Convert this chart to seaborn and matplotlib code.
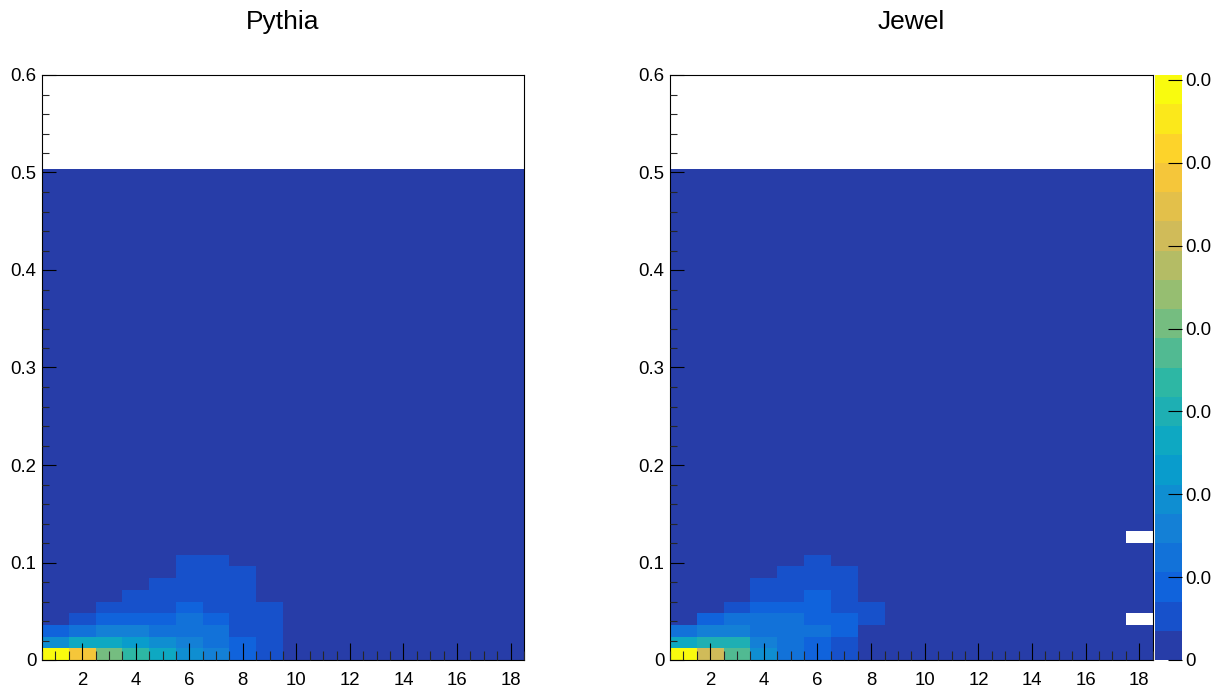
import numpy as np
import pandas as pd
import matplotlib
matplotlib.use("Agg")
import matplotlib.pyplot as plt
from matplotlib.colors import LinearSegmentedColormap, ListedColormap
from matplotlib.ticker import MultipleLocator, FuncFormatter
from matplotlib.transforms import Bbox, TransformedBbox
import seaborn as sns

sns.set_style("white")
plt.rcParams["font.family"] = ["Liberation Sans", "DejaVu Sans"]
plt.rcParams["axes.axisbelow"] = False

# ---- binning of the 2D histograms ----
X_LO, X_HI, N_XBINS = 0.5, 18.5, 18
Y_LO, Y_HI, N_YBINS = 0.0, 0.504, 42
Z_MAX = 0.0706          # maximum bin content (colour scale top)
N_LEVELS = 20           # number of colour contours
BASE = 0.001            # content of the remaining (low) bins

# bin contents of the lowest nine y-rows, x bins 1..18 (row 0 = bottom)
pythia_rows = [
    [0.0706, 0.058, 0.042, 0.033, 0.026, 0.021, 0.015, 0.009, 0.005, 0.002, 0.002, 0.002, 0.002, 0.002, 0.002, 0.002, 0.002, 0.002],
    [0.020, 0.026, 0.028, 0.024, 0.020, 0.016, 0.012, 0.008, 0.006, 0.001, 0.001, 0.001, 0.001, 0.001, 0.001, 0.001, 0.001, 0.001],
    [0.009, 0.012, 0.015, 0.015, 0.013, 0.013, 0.011, 0.007, 0.006, 0.001, 0.001, 0.001, 0.001, 0.001, 0.001, 0.001, 0.001, 0.001],
    [0.001, 0.006, 0.009, 0.010, 0.010, 0.011, 0.008, 0.006, 0.005, 0.001, 0.001, 0.001, 0.001, 0.001, 0.001, 0.001, 0.001, 0.001],
    [0.001, 0.001, 0.005, 0.006, 0.006, 0.009, 0.007, 0.006, 0.005, 0.001, 0.001, 0.001, 0.001, 0.001, 0.001, 0.001, 0.001, 0.001],
    [0.001, 0.001, 0.001, 0.005, 0.005, 0.006, 0.006, 0.005, 0.001, 0.001, 0.001, 0.001, 0.001, 0.001, 0.001, 0.001, 0.001, 0.001],
    [0.001, 0.001, 0.001, 0.001, 0.005, 0.006, 0.005, 0.005, 0.001, 0.001, 0.001, 0.001, 0.001, 0.001, 0.001, 0.001, 0.001, 0.001],
    [0.001, 0.001, 0.001, 0.001, 0.001, 0.005, 0.005, 0.005, 0.001, 0.001, 0.001, 0.001, 0.001, 0.001, 0.001, 0.001, 0.001, 0.001],
    [0.001, 0.001, 0.001, 0.001, 0.001, 0.005, 0.005, 0.001, 0.001, 0.001, 0.001, 0.001, 0.001, 0.001, 0.001, 0.001, 0.001, 0.001],
]

jewel_rows = [
    [0.0706, 0.051, 0.037, 0.019, 0.012, 0.009, 0.005, 0.002, 0.002, 0.002, 0.002, 0.002, 0.002, 0.002, 0.002, 0.002, 0.002, 0.002],
    [0.026, 0.030, 0.030, 0.016, 0.013, 0.010, 0.007, 0.002, 0.001, 0.001, 0.001, 0.001, 0.001, 0.001, 0.001, 0.001, 0.001, 0.001],
    [0.012, 0.015, 0.016, 0.014, 0.013, 0.011, 0.008, 0.002, 0.001, 0.001, 0.001, 0.001, 0.001, 0.001, 0.001, 0.001, 0.001, 0.001],
    [0.001, 0.008, 0.012, 0.012, 0.011, 0.010, 0.008, 0.006, 0.001, 0.001, 0.001, 0.001, 0.001, 0.001, 0.001, 0.001, 0.001, 0.0],
    [0.001, 0.001, 0.006, 0.010, 0.010, 0.009, 0.007, 0.006, 0.001, 0.001, 0.001, 0.001, 0.001, 0.001, 0.001, 0.001, 0.001, 0.001],
    [0.001, 0.001, 0.001, 0.006, 0.007, 0.008, 0.006, 0.001, 0.001, 0.001, 0.001, 0.001, 0.001, 0.001, 0.001, 0.001, 0.001, 0.001],
    [0.001, 0.001, 0.001, 0.005, 0.006, 0.007, 0.006, 0.001, 0.001, 0.001, 0.001, 0.001, 0.001, 0.001, 0.001, 0.001, 0.001, 0.001],
    [0.001, 0.001, 0.001, 0.001, 0.005, 0.006, 0.005, 0.001, 0.001, 0.001, 0.001, 0.001, 0.001, 0.001, 0.001, 0.001, 0.001, 0.001],
    [0.001, 0.001, 0.001, 0.001, 0.001, 0.005, 0.001, 0.001, 0.001, 0.001, 0.001, 0.001, 0.001, 0.001, 0.001, 0.001, 0.001, 0.001],
]
# (x bin, y row) of empty bins above the listed rows
jewel_empty = [(18, 10)]

titles = ["Pythia", "Jewel"]
z_ticks = [0.0, 0.01, 0.02, 0.03, 0.04, 0.05, 0.06, 0.07]

# ---- ROOT "bird" palette, 20 discrete contour colours ----
bird_stops = [0.0, 0.125, 0.25, 0.375, 0.5, 0.625, 0.75, 0.875, 1.0]
bird_r = [0.2082, 0.0592, 0.0780, 0.0232, 0.1802, 0.5301, 0.8186, 0.9956, 0.9764]
bird_g = [0.1664, 0.3599, 0.5041, 0.6419, 0.7178, 0.7492, 0.7328, 0.7862, 0.9832]
bird_b = [0.5293, 0.8684, 0.8385, 0.7914, 0.6425, 0.4662, 0.3499, 0.1968, 0.0539]
bird = LinearSegmentedColormap.from_list(
    "bird", list(zip(bird_stops, zip(bird_r, bird_g, bird_b))))
level_pos = np.minimum((np.arange(N_LEVELS) + 0.99) / N_LEVELS, 1.0)
bird20 = ListedColormap(bird(level_pos), name="bird20")

x_edges = np.linspace(X_LO, X_HI, N_XBINS + 1)
y_edges = np.linspace(Y_LO, Y_HI, N_YBINS + 1)
x_centers = 0.5 * (x_edges[:-1] + x_edges[1:])
y_centers = 0.5 * (y_edges[:-1] + y_edges[1:])


def bin_table(rows, empty=()):
    grid = np.full((N_YBINS, N_XBINS), BASE)
    grid[:len(rows)] = np.asarray(rows)
    for xb, yb in empty:
        grid[yb, xb - 1] = 0.0
    xx, yy = np.meshgrid(x_centers, y_centers)
    return pd.DataFrame({"x": xx.ravel(), "y": yy.ravel(), "w": grid.ravel()})


W, H = 1223, 690
fig = plt.figure(figsize=(W / 100, H / 100), dpi=100, facecolor="white")

panels = [
    (bin_table(pythia_rows), [42, 75, 524, 660]),
    (bin_table(jewel_rows, jewel_empty), [670, 75, 1152.7, 660]),
]

mesh = None
for (df, (l, t, r, b)), title in zip(panels, titles):
    ax = fig.add_axes([l / W, 1 - b / H, (r - l) / W, (b - t) / H])
    sns.histplot(data=df, x="x", y="y", weights="w", bins=(x_edges, y_edges),
                 cmap=bird20, thresh=0, cbar=False, ax=ax, linewidth=0)
    mesh = ax.collections[-1]
    mesh.set_cmap(bird20)
    mesh.set_clim(0.0, Z_MAX)
    ax.set_axisbelow(False)

    ax.set_xlim(X_LO, X_HI)
    ax.set_ylim(0.0, 0.6)
    ax.set_xlabel("")
    ax.set_ylabel("")
    ax.set_facecolor("white")
    ax.grid(False)

    ax.xaxis.set_major_locator(MultipleLocator(2))
    ax.xaxis.set_minor_locator(MultipleLocator(0.5))
    ax.yaxis.set_major_locator(MultipleLocator(0.1))
    ax.yaxis.set_minor_locator(MultipleLocator(0.02))
    ax.yaxis.set_major_formatter(FuncFormatter(lambda v, p: f"{v:g}"))
    ax.xaxis.set_major_formatter(FuncFormatter(lambda v, p: f"{v:g}"))

    ax.tick_params(axis="x", which="major", direction="in", length=12.2,
                   width=0.8, pad=8.5, labelsize=13.4, colors="black",
                   top=False, bottom=True)
    ax.tick_params(axis="x", which="minor", direction="in", length=6.3,
                   width=0.8, top=False, bottom=True)
    ax.tick_params(axis="y", which="major", direction="in", length=10.4,
                   width=0.8, pad=4, labelsize=13.4, colors="black",
                   left=True, right=False)
    ax.tick_params(axis="y", which="minor", direction="in", length=5.2,
                   width=0.8, left=True, right=False)
    for s in ax.spines.values():
        s.set_visible(True)
        s.set_color("black")
        s.set_linewidth(0.8)

    fig.text((l + r) / 2 / W, 1 - 22 / H, title, ha="center", va="center",
             fontsize=19, color="black")

# ---- palette axis for the right histogram ----
cax = fig.add_axes([1155 / W, 1 - 660 / H, (1182 - 1155) / W, 585 / H])
cb = fig.colorbar(mesh, cax=cax)
cb.outline.set_visible(False)
cax.set_axisbelow(False)
cb.set_ticks(z_ticks)
cb.ax.yaxis.set_major_formatter(FuncFormatter(lambda v, p: f"{v:g}"))
cb.ax.minorticks_off()
cb.ax.tick_params(axis="y", direction="in", length=10, width=0.8,
                  colors="black", pad=2, labelsize=13.4, right=True, left=False)

# the palette labels are cut at the canvas border
clip = TransformedBbox(Bbox([[0, 0], [1210.5 / W, 1]]), fig.transFigure)
for lbl in cb.ax.get_yticklabels():
    lbl.set_clip_on(True)
    lbl.set_clip_box(clip)

fig.savefig("out.png", dpi=100, facecolor="white")
